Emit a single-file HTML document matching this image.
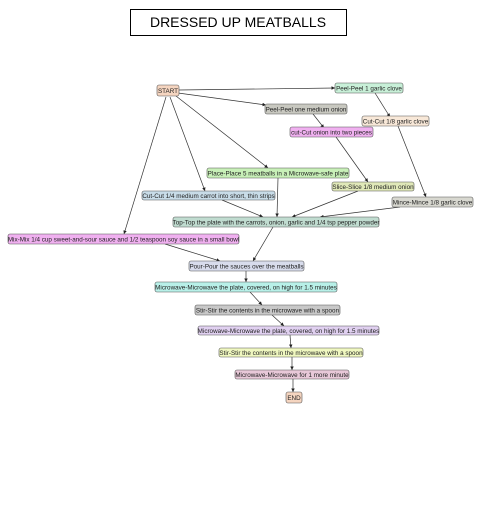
<!DOCTYPE html><html><head><style>body{margin:0;background:#fff}svg{display:block}text{font-family:"Liberation Sans",sans-serif;font-size:6.3px;fill:#222}</style></head><body>
<svg width="480" height="509" viewBox="0 0 480 509">
<defs><marker id="a" markerWidth="6" markerHeight="6" refX="5" refY="3" orient="auto"><path d="M0,0.5L5,3L0,5.5z" fill="#222"/></marker></defs>
<rect x="130.5" y="9.5" width="216" height="26" fill="#fff" stroke="#000"/>
<text x="238" y="27" text-anchor="middle" style="font-size:14px;fill:#000">DRESSED UP MEATBALLS</text>
<g stroke="#333" stroke-width="0.7" fill="none" marker-end="url(#a)">
<path d="M179,90L335,88"/><path d="M178,93L266,105"/><path d="M176,96L268,168"/><path d="M170,97L205,191"/><path d="M166,97L124,234"/>
<path d="M375,93L390,117"/><path d="M313,114L324,128"/><path d="M336,137L368,182"/><path d="M398,126L426,197"/>
<path d="M278,178L277,217"/><path d="M222,200L263,217"/><path d="M358,191L292,217"/><path d="M400,207L320,217"/>
<path d="M273,227L253,261"/><path d="M165,244L220,261"/>
<path d="M246,271L246,282"/><path d="M250,292L262,305"/><path d="M272,315L284,326"/><path d="M290,335L291,348"/><path d="M292,357L292,370"/><path d="M293,379L293,392"/>
</g>
<g stroke="#555" stroke-width="0.6">
<rect x="157" y="85" width="22" height="11" rx="2" fill="#f5d5c0"/>
<rect x="335" y="83" width="68" height="10" rx="2" fill="#c8f0d8"/>
<rect x="265" y="104" width="82" height="10" rx="2" fill="#c8c8c0"/>
<rect x="362" y="116" width="67" height="10" rx="2" fill="#f8e8d8"/>
<rect x="290" y="127" width="83" height="10" rx="2" fill="#f0b0f0"/>
<rect x="207" y="168" width="142" height="10" rx="2" fill="#c8f0b8"/>
<rect x="332" y="182" width="82" height="9" rx="2" fill="#e0e8b8"/>
<rect x="142" y="191" width="133" height="9" rx="2" fill="#c8dce8"/>
<rect x="392" y="197" width="81" height="10" rx="2" fill="#d8d8d0"/>
<rect x="173" y="217" width="206" height="10" rx="2" fill="#c0dcd0"/>
<rect x="8" y="234" width="231" height="10" rx="2" fill="#f0b0f0"/>
<rect x="189" y="261" width="115" height="10" rx="2" fill="#d8dcec"/>
<rect x="155" y="282" width="182" height="10" rx="2" fill="#b8f0e8"/>
<rect x="195" y="305" width="145" height="10" rx="2" fill="#c8c8c8"/>
<rect x="198" y="326" width="181" height="9" rx="2" fill="#e0d0f0"/>
<rect x="219" y="348" width="144" height="9" rx="2" fill="#f0f8c0"/>
<rect x="235" y="370" width="114" height="9" rx="2" fill="#e8c8d8"/>
<rect x="286" y="392" width="16" height="11" rx="2" fill="#f5d5c0"/>
</g>
<g text-anchor="middle">
<text x="168" y="93">START</text>
<text x="369" y="90.5">Peel-Peel 1 garlic clove</text>
<text x="306" y="111.5">Peel-Peel one medium onion</text>
<text x="395.5" y="123.5">Cut-Cut 1/8 garlic clove</text>
<text x="331.5" y="134.5">cut-Cut onion into two pieces</text>
<text x="278" y="175.5">Place-Place 5 meatballs in a Microwave-safe plate</text>
<text x="373" y="189">Slice-Slice 1/8 medium onion</text>
<text x="208.5" y="198">Cut-Cut 1/4 medium carrot into short, thin strips</text>
<text x="432.5" y="204.5">Mince-Mince 1/8 garlic clove</text>
<text x="276" y="224.5">Top-Top the plate with the carrots, onion, garlic and 1/4 tsp pepper powder</text>
<text x="123.5" y="241.5">Mix-Mix 1/4 cup sweet-and-sour sauce and 1/2 teaspoon soy sauce in a small bowl</text>
<text x="246.5" y="268.5">Pour-Pour the sauces over the meatballs</text>
<text x="246" y="289.5">Microwave-Microwave the plate, covered, on high for 1.5 minutes</text>
<text x="267.5" y="312.5">Stir-Stir the contents in the microwave with a spoon</text>
<text x="288.5" y="333">Microwave-Microwave the plate, covered, on high for 1.5 minutes</text>
<text x="291" y="355">Stir-Stir the contents in the microwave with a spoon</text>
<text x="292" y="377">Microwave-Microwave for 1 more minute</text>
<text x="294" y="400">END</text>
</g>
</svg></body></html>
